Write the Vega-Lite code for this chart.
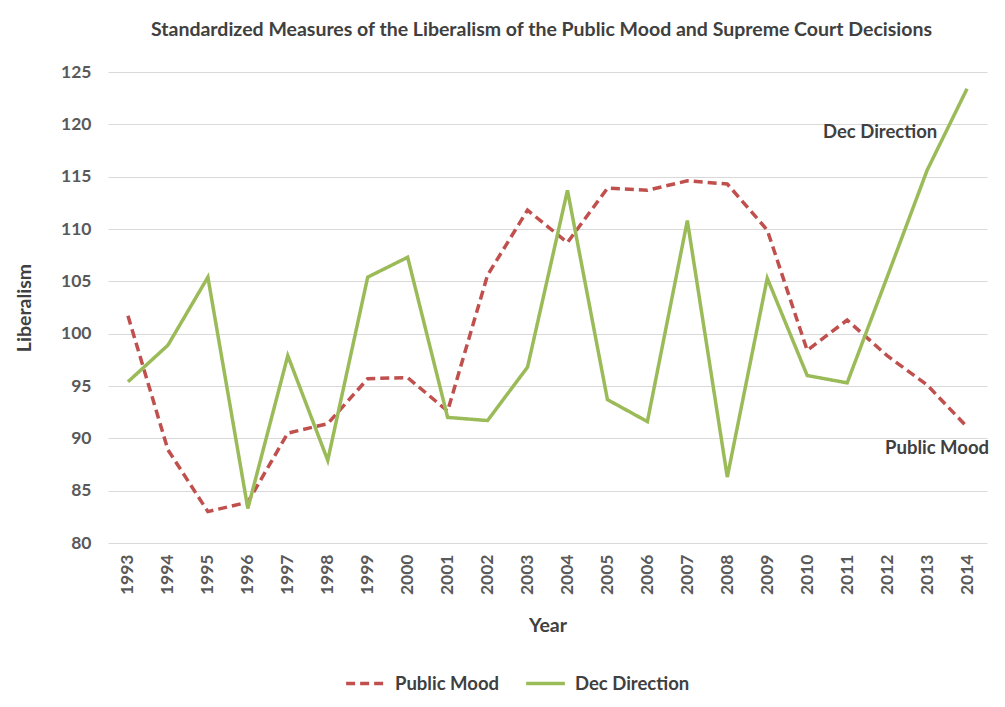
{
  "$schema": "https://vega.github.io/schema/vega-lite/v6.json",
  "autosize": {"type": "none"},
  "width": 879,
  "height": 471,
  "padding": {"left": 108, "top": 72, "right": 18, "bottom": 164},
  "background": "white",
  "title": {
    "text": "Standardized Measures of the Liberalism of the Public Mood and Supreme Court Decisions",
    "anchor": "middle",
    "font": "Lato",
    "fontSize": 19.5,
    "fontWeight": "bold",
    "color": "#404040",
    "offset": 23,
    "dx": -6
  },
  "config": {
    "view": {"stroke": null},
    "font": "Lato"
  },
  "datasets": {
    "series": [
      {"year": 1993, "series": "Public Mood", "value": 101.7},
      {"year": 1994, "series": "Public Mood", "value": 88.9},
      {"year": 1995, "series": "Public Mood", "value": 83.0},
      {"year": 1996, "series": "Public Mood", "value": 83.9},
      {"year": 1997, "series": "Public Mood", "value": 90.5},
      {"year": 1998, "series": "Public Mood", "value": 91.4},
      {"year": 1999, "series": "Public Mood", "value": 95.7},
      {"year": 2000, "series": "Public Mood", "value": 95.8},
      {"year": 2001, "series": "Public Mood", "value": 92.6},
      {"year": 2002, "series": "Public Mood", "value": 105.6},
      {"year": 2003, "series": "Public Mood", "value": 111.8},
      {"year": 2004, "series": "Public Mood", "value": 108.7},
      {"year": 2005, "series": "Public Mood", "value": 113.9},
      {"year": 2006, "series": "Public Mood", "value": 113.7},
      {"year": 2007, "series": "Public Mood", "value": 114.6},
      {"year": 2008, "series": "Public Mood", "value": 114.3},
      {"year": 2009, "series": "Public Mood", "value": 109.9},
      {"year": 2010, "series": "Public Mood", "value": 98.4},
      {"year": 2011, "series": "Public Mood", "value": 101.3},
      {"year": 2012, "series": "Public Mood", "value": 97.9},
      {"year": 2013, "series": "Public Mood", "value": 95.1},
      {"year": 2014, "series": "Public Mood", "value": 91.1},
      {"year": 1993, "series": "Dec Direction", "value": 95.4},
      {"year": 1994, "series": "Dec Direction", "value": 98.9},
      {"year": 1995, "series": "Dec Direction", "value": 105.4},
      {"year": 1996, "series": "Dec Direction", "value": 83.3},
      {"year": 1997, "series": "Dec Direction", "value": 97.9},
      {"year": 1998, "series": "Dec Direction", "value": 87.9},
      {"year": 1999, "series": "Dec Direction", "value": 105.4},
      {"year": 2000, "series": "Dec Direction", "value": 107.3},
      {"year": 2001, "series": "Dec Direction", "value": 92.0},
      {"year": 2002, "series": "Dec Direction", "value": 91.7},
      {"year": 2003, "series": "Dec Direction", "value": 96.8},
      {"year": 2004, "series": "Dec Direction", "value": 113.7},
      {"year": 2005, "series": "Dec Direction", "value": 93.7},
      {"year": 2006, "series": "Dec Direction", "value": 91.6},
      {"year": 2007, "series": "Dec Direction", "value": 110.8},
      {"year": 2008, "series": "Dec Direction", "value": 86.3},
      {"year": 2009, "series": "Dec Direction", "value": 105.3},
      {"year": 2010, "series": "Dec Direction", "value": 96.0},
      {"year": 2011, "series": "Dec Direction", "value": 95.3},
      {"year": 2012, "series": "Dec Direction", "value": 105.4},
      {"year": 2013, "series": "Dec Direction", "value": 115.6},
      {"year": 2014, "series": "Dec Direction", "value": 123.4}
    ],
    "labels": [
      {"year": 2012, "value": 119.3, "label": "Dec Direction", "shift": -7},
      {"year": 2013, "value": 89.1, "label": "Public Mood", "shift": 10}
    ]
  },
  "encoding": {
    "x": {
      "field": "year",
      "type": "ordinal",
      "scale": {"type": "point", "padding": 0.5},
      "axis": {
        "title": "Year",
        "titleFont": "Lato",
        "titleFontSize": 19.5,
        "titleFontWeight": "bold",
        "titleColor": "#404040",
        "titlePadding": 22,
        "labelAngle": -90,
        "labelFont": "Lato",
        "labelFontSize": 17.5,
        "labelFontWeight": "bold",
        "labelColor": "#595959",
        "labelPadding": 11,
        "domain": false,
        "ticks": false,
        "grid": false
      }
    },
    "y": {
      "field": "value",
      "type": "quantitative",
      "scale": {"domain": [80, 125], "nice": false, "zero": false},
      "axis": {
        "title": "Liberalism",
        "titleFont": "Lato",
        "titleFontSize": 19.5,
        "titleFontWeight": "bold",
        "titleColor": "#404040",
        "titlePadding": 26,
        "values": [80, 85, 90, 95, 100, 105, 110, 115, 120, 125],
        "labelFont": "Lato",
        "labelFontSize": 17.5,
        "labelFontWeight": "bold",
        "labelColor": "#595959",
        "labelPadding": 17,
        "domain": false,
        "ticks": false,
        "grid": true,
        "gridColor": "#D9D9D9",
        "gridWidth": 1.2
      }
    }
  },
  "layer": [
    {
      "data": {"name": "series"},
      "mark": {"type": "line", "strokeWidth": 3.5},
      "encoding": {
        "color": {
          "field": "series",
          "type": "nominal",
          "scale": {"domain": ["Public Mood", "Dec Direction"], "range": ["#C0504D", "#9BBB59"]},
          "legend": {
            "title": null,
            "orient": "none",
            "legendX": 236,
            "legendY": 590,
            "direction": "horizontal",
            "symbolType": "stroke",
            "symbolSize": 1500,
            "symbolStrokeWidth": 3.5,
            "labelFont": "Lato",
            "labelFontSize": 18.5,
            "labelFontWeight": "bold",
            "labelColor": "#404040",
            "columnPadding": 19,
            "labelOffset": 8
          }
        },
        "strokeDash": {
          "field": "series",
          "type": "nominal",
          "scale": {"domain": ["Public Mood", "Dec Direction"], "range": [[9, 5], [1, 0]]},
          "legend": {
            "title": null,
            "orient": "none",
            "legendX": 236,
            "legendY": 590,
            "direction": "horizontal",
            "symbolType": "stroke",
            "symbolSize": 1500,
            "symbolStrokeWidth": 3.5,
            "labelFont": "Lato",
            "labelFontSize": 18.5,
            "labelFontWeight": "bold",
            "labelColor": "#404040",
            "columnPadding": 19,
            "labelOffset": 8
          }
        }
      }
    },
    {
      "data": {"name": "labels"},
      "mark": {"type": "text", "font": "Lato", "fontSize": 18.5, "fontWeight": "bold", "color": "#404040", "align": "center", "baseline": "middle"},
      "encoding": {
        "text": {"field": "label", "type": "nominal"},
        "xOffset": {"field": "shift", "type": "quantitative", "scale": null}
      }
    }
  ]
}
